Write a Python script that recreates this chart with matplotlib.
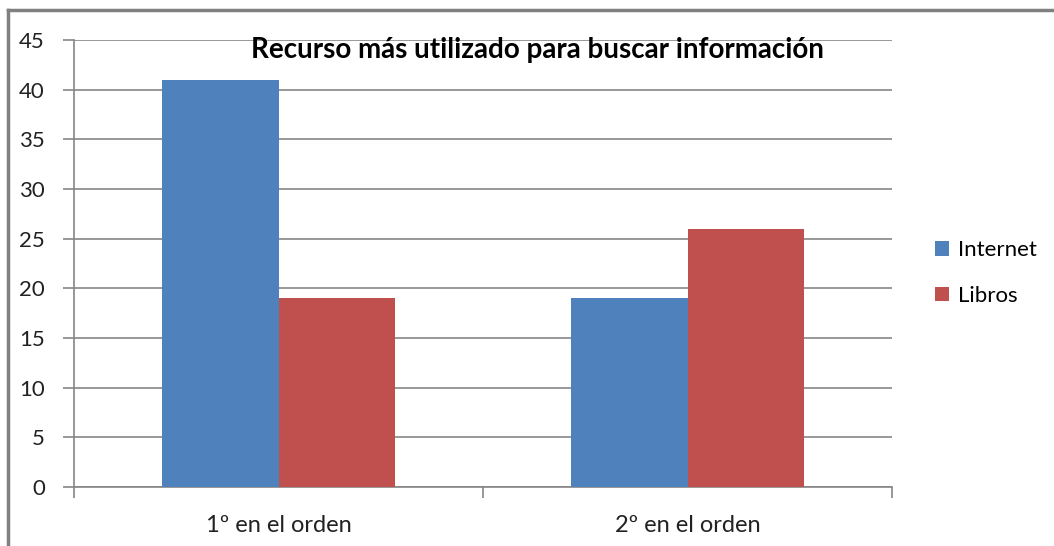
import numpy as np
import matplotlib.pyplot as plt
from matplotlib.lines import Line2D

categories = ['1º en el orden', '2º en el orden']
internet = [41, 19]
libros = [19, 26]
series_names = ['Internet', 'Libros']
colors = ['#4F81BD', '#C0504D']
grid_color = '#868686'

plt.rcParams['font.family'] = ['Lato', 'DejaVu Sans']

fig = plt.figure(figsize=(10.54, 5.46), dpi=100)
ax = fig.add_axes([74/1054, 1-487/546, 818/1054, 447/546])

x = np.arange(len(categories))
w = 0.286
ax.bar(x - w/2, internet, w, color=colors[0], label=series_names[0], zorder=3)
ax.bar(x + w/2, libros, w, color=colors[1], label=series_names[1], zorder=3)

ax.set_xlim(-0.5, 1.5)
ax.set_ylim(0, 45)
ax.set_yticks(range(0, 46, 5))
ax.yaxis.grid(True, color=grid_color, linewidth=1.2, zorder=0)
ax.set_xticks([-0.5, 0.5, 1.5])
ax.set_xticklabels([])
ax.set_xticks(x, minor=True)
ax.set_xticklabels(categories, minor=True)
ax.tick_params(axis='x', which='minor', length=0, pad=20, labelsize=17, labelcolor='#222222')
ax.tick_params(axis='x', which='major', length=8, color=grid_color, width=1.2)
ax.tick_params(axis='y', length=8, color=grid_color, width=1.2, labelsize=16, pad=13, labelcolor='#222222')

for s in ['top', 'right']:
    ax.spines[s].set_visible(False)
for s in ['left', 'bottom']:
    ax.spines[s].set_color(grid_color)
    ax.spines[s].set_linewidth(1.2)

fig.text(537/1054, 1-50/546, 'Recurso más utilizado para buscar información',
         ha='center', va='center', fontsize=20, fontweight='bold')

ax.legend(loc='center left', bbox_to_anchor=(915/1054, 0.5), bbox_transform=fig.transFigure,
          frameon=False, fontsize=16, handlelength=0.65, handleheight=0.65,
          labelspacing=1.15, handletextpad=0.4)

# outer frame: only top and left edges are visible in the picture
fig.add_artist(Line2D([8/1054, 8/1054], [0, 1-10/546], transform=fig.transFigure,
                      color='#808080', linewidth=2.5))
fig.add_artist(Line2D([8/1054, 1], [1-10/546, 1-10/546], transform=fig.transFigure,
                      color='#808080', linewidth=2.5))

fig.savefig('out.png', dpi=100)
